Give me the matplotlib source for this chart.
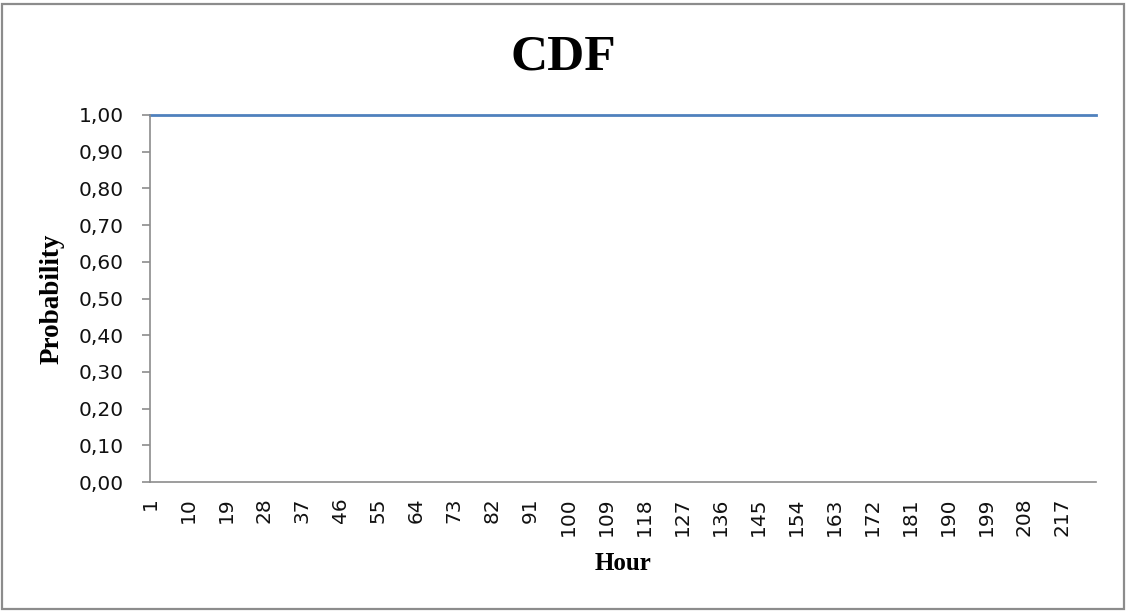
import matplotlib
matplotlib.use("Agg")
import matplotlib.pyplot as plt
from matplotlib.patches import Rectangle
import numpy as np

# Data
hours = list(range(1, 226))
probability = [1.0] * len(hours)
y_ticks = [0.0, 0.1, 0.2, 0.3, 0.4, 0.5, 0.6, 0.7, 0.8, 0.9, 1.0]
y_tick_labels = ["0,00", "0,10", "0,20", "0,30", "0,40", "0,50", "0,60", "0,70", "0,80", "0,90", "1,00"]
x_label_step = 9

W, H = 1127, 611
fig = plt.figure(figsize=(W / 100, H / 100), dpi=100)
fig.patch.set_facecolor("white")

# chart border
fig.add_artist(Rectangle((2 / W, 1 - 609 / H), (1124 - 2) / W, (609 - 4) / H,
                         transform=fig.transFigure, fill=False,
                         edgecolor="#8c8c8c", linewidth=1.6))

left, right, top, bottom = 150, 1096, 115, 482
ax = fig.add_axes([left / W, 1 - bottom / H, (right - left) / W, (bottom - top) / H])

xpos = np.arange(len(hours))
ax.plot(xpos, probability, color="#4F81BD", linewidth=2.0, clip_on=False)

ax.set_xlim(0, len(hours) - 1)
ax.set_ylim(0, 1)

tick_idx = xpos[::x_label_step]
ax.set_xticks(tick_idx)
ax.set_xticklabels([str(hours[i]) for i in tick_idx], rotation=90,
                   fontsize=14.5, family="DejaVu Sans", color="#111111")
ax.tick_params(axis="x", length=0, pad=11)

ax.set_yticks(y_ticks)
ax.set_yticklabels(y_tick_labels, fontsize=14.5, family="DejaVu Sans", color="#111111")
ax.tick_params(axis="y", length=6, width=1.2, color="#8c8c8c", pad=13)

for s in ["top", "right"]:
    ax.spines[s].set_visible(False)
for s in ["left", "bottom"]:
    ax.spines[s].set_color("#8c8c8c")
    ax.spines[s].set_linewidth(1.2)

ax.set_xlabel("Hour", family="Liberation Serif", fontweight="bold", fontsize=18)
ax.xaxis.set_label_coords(0.5, 1 - (563 - top) / (bottom - top), transform=ax.transAxes)
ax.set_ylabel("Probability", family="Liberation Serif", fontweight="bold", fontsize=19.5)
ax.yaxis.set_label_coords((52 - left) / (right - left), 0.5, transform=ax.transAxes)
ax.xaxis.label.set_va("center")
ax.yaxis.label.set_va("center")

fig.text(563 / W, 1 - 57 / H, "CDF", family="Liberation Serif", fontweight="bold",
         fontsize=37, ha="center", va="center")

fig.savefig("out.png", dpi=100, facecolor="white")
